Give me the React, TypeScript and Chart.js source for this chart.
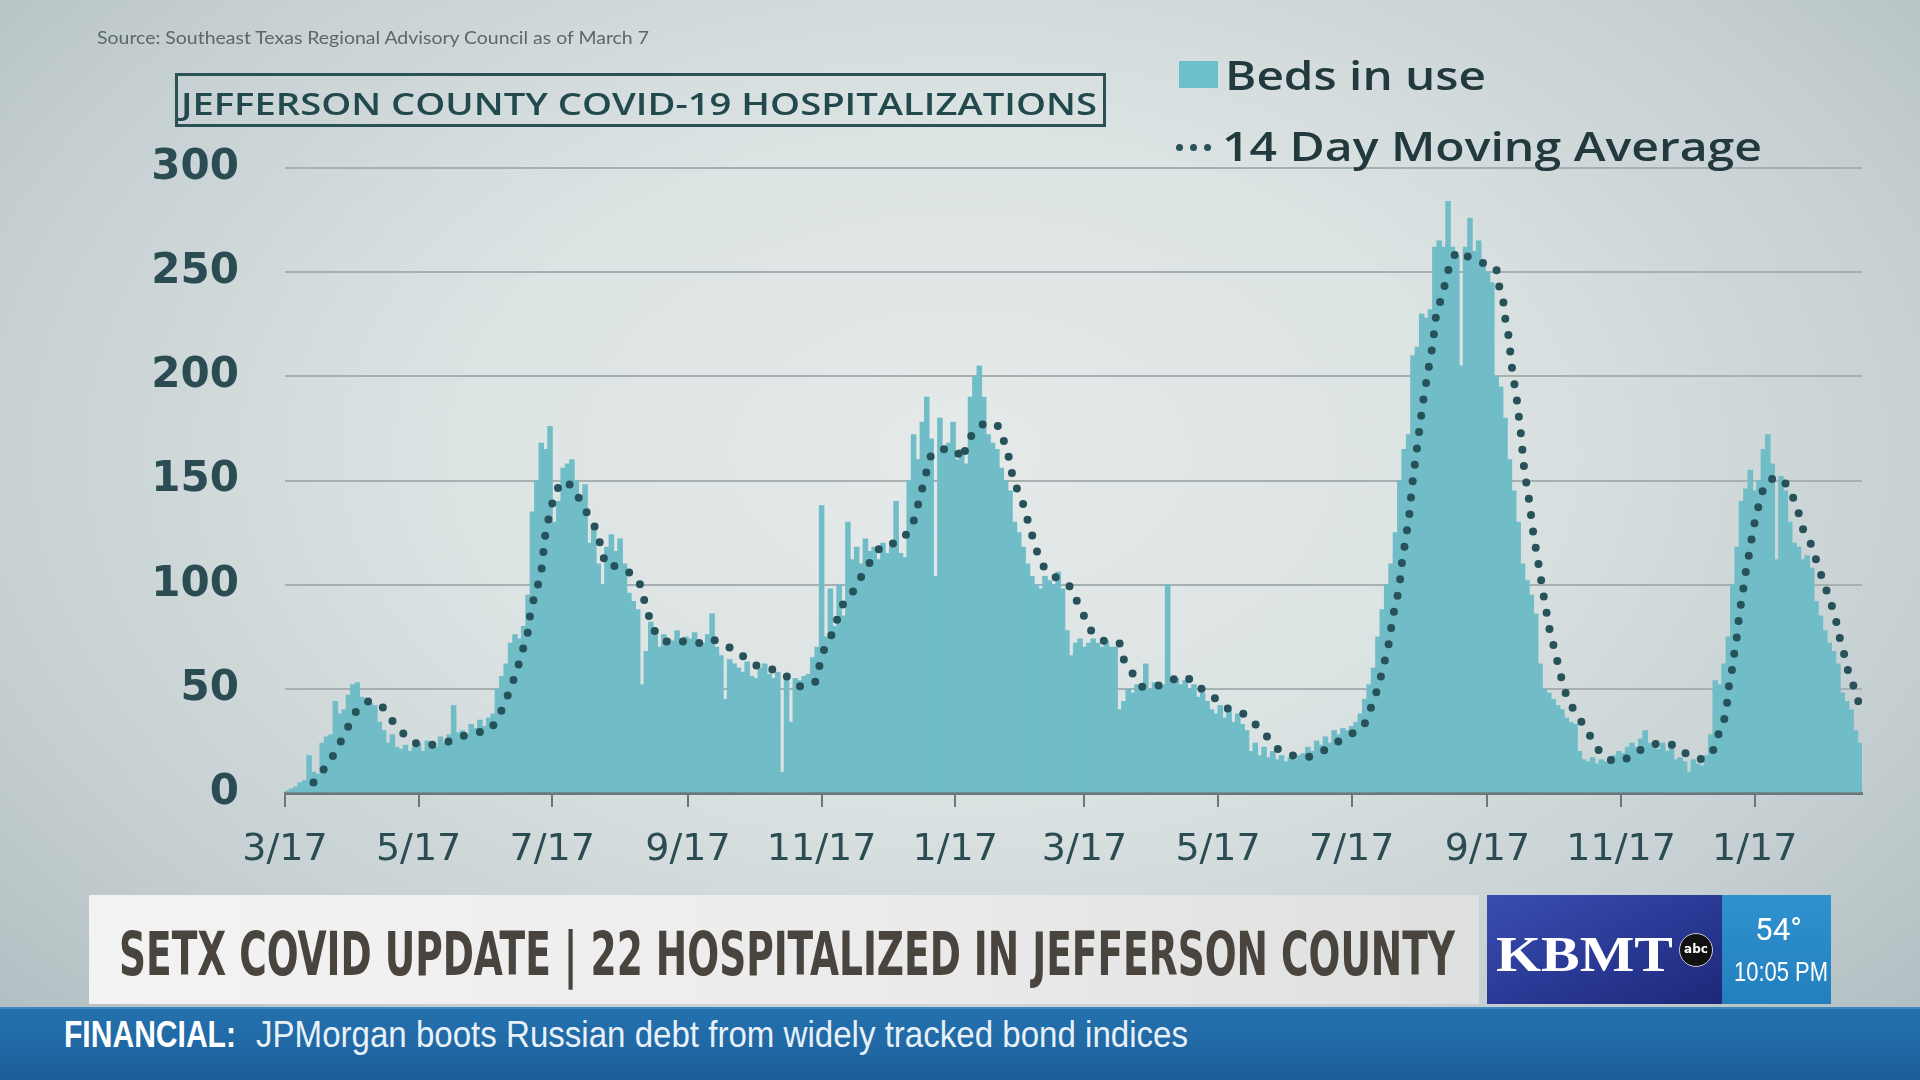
import React, { useEffect, useLayoutEffect, useRef } from "react";
import { Chart, registerables } from "chart.js";

Chart.register(...registerables);

// ---- Data (days counted from 3/17/2020) ----
const tickDays = [0, 61, 122, 184, 245, 306, 365, 426, 487, 549, 610, 671];
const tickLabels = ["3/17", "5/17", "7/17", "9/17", "11/17", "1/17", "3/17", "5/17", "7/17", "9/17", "11/17", "1/17"];
const yTickValues = [0, 50, 100, 150, 200, 250, 300];

// Beds in use, two-day bins starting 3/17/2020 (bin k covers days 2k..2k+1)
const bedsInUse = [
  1, 2, 3, 5, 6, 18, 10, 9, 24, 27,
  28, 44, 38, 40, 47, 52, 53, 46, 44, 43,
  42, 34, 30, 24, 28, 22, 21, 23, 20, 22,
  24, 20, 25, 23, 22, 27, 24, 28, 42, 29,
  30, 28, 33, 31, 35, 32, 36, 38, 50, 56,
  62, 72, 76, 74, 80, 95, 135, 150, 168, 165,
  176, 130, 140, 156, 158, 160, 150, 142, 148, 120,
  128, 110, 100, 118, 124, 116, 122, 110, 96, 92,
  88, 52, 68, 82, 76, 70, 76, 74, 73, 78,
  72, 75, 74, 77, 70, 72, 76, 86, 70, 66,
  45, 64, 62, 60, 58, 63, 56, 55, 60, 62,
  57, 55, 58, 10, 56, 34, 55, 54, 56, 57,
  65, 70, 138, 75, 98, 80, 100, 85, 130, 112,
  118, 110, 122, 116, 118, 112, 120, 115, 118, 140,
  115, 113, 150, 172, 160, 178, 190, 170, 104, 180,
  165, 168, 178, 160, 165, 158, 190, 200, 205, 190,
  172, 168, 165, 156, 150, 145, 130, 125, 118, 110,
  104, 100, 98, 104, 102, 100, 106, 98, 78, 66,
  72, 74, 70, 72, 74, 72, 70, 73, 70, 70,
  40, 44, 50, 48, 52, 50, 62, 50, 53, 50,
  52, 100, 54, 55, 52, 54, 50, 52, 46, 48,
  44, 40, 38, 42, 36, 40, 34, 38, 33, 30,
  20, 24, 18, 22, 17, 20, 16, 18, 15, 17,
  16, 18, 19, 22, 20, 25, 23, 27, 24, 30,
  28, 31, 30, 32, 34, 38, 45, 52, 60, 75,
  88, 100, 110, 125, 150, 165, 172, 210, 214, 230,
  228, 232, 262, 265, 262, 284, 262, 258, 205, 262,
  276, 260, 265, 255, 250, 245, 200, 195, 180, 160,
  145, 130, 110, 102, 95, 86, 62, 50, 48, 45,
  42, 40, 36, 34, 33, 20, 16, 15, 17, 14,
  16, 15, 17, 18, 20, 19, 22, 24, 22, 26,
  30, 24, 22, 21, 24, 20, 22, 16, 17, 15,
  10, 16, 14, 13, 18, 28, 54, 52, 62, 75,
  100, 118, 140, 146, 155, 145, 150, 165, 172, 158,
  112, 152, 145, 130, 120, 118, 112, 114, 108, 92,
  85, 78, 72, 68, 62, 48, 44, 40, 30, 24,
];

// 14 day moving average (day, value)
const maDays = [
  13, 17.5, 22, 25.6, 28.9, 32.4, 37.6, 44, 48.7, 53.6, 58.6, 66.5, 73, 80, 87, 93.6, 97.8, 100.7, 103.5, 106,
  108, 110.6, 111.5, 113, 115, 117, 118.7, 120, 121.7, 124.3, 128, 133, 135, 139.5, 142.6, 144.5, 146.5, 151.8, 157, 161.6,
  163.6, 165.6, 167.8, 172.7, 177.7, 182.9, 189, 195, 200.4, 207, 211.5, 217.6, 224.7, 229.8, 235.4, 242, 244, 245.8, 249.6, 252,
  254.9, 258.4, 261.7, 265.2, 269.3, 272.4, 279.7, 284.5, 287.6, 289.4, 291.4, 293.2, 295.2, 300.5, 305.8, 309.6, 311.2, 315, 319.8, 325.9,
  328.2, 330.5, 332, 334.5, 337.3, 339.3, 341.6, 343.9, 347.2, 352.7, 358.6, 361.6, 364.8, 368.5, 374, 381, 383, 387.2, 391.3, 396.8,
  403.2, 408.2, 415.3, 419.2, 425.3, 431, 437.7, 443, 448.4, 453.4, 460, 466.8, 473.6, 479.7, 486.4, 492.5, 495.5, 497.9, 500.1, 502,
  503.8, 505, 506.3, 508, 509.2, 510, 511.2, 512.4, 513.5, 514.2, 515, 516, 517, 518, 519, 520, 521.4, 522.6, 524, 525.6,
  527.8, 529.8, 531.6, 534.8, 538.6, 543.9, 549.8, 553, 554.4, 556.4, 557.2, 558.7, 560.2, 562.5, 564.3, 565.8, 568.1, 570, 572.6, 574.9,
  577.6, 579.6, 581.4, 583.3, 585.5, 589.5, 593.2, 597.2, 601.3, 607, 614.2, 620.6, 627.6, 634.6, 640.7, 647.4, 652.4, 654.7, 657.3, 658.5,
  659.3, 660.8, 661.8, 663, 663.8, 664.9, 666.1, 667.2, 668.7, 669.9, 671.4, 673.3, 675.5, 680.5, 685.9, 688.9, 691.5, 693.5, 697, 699.3,
  701.9, 704.5, 706.8, 708.8, 710.3, 712.6, 714.1, 717.2, 719,
];
const maValues = [
  5, 11, 18, 25, 32, 39, 44, 42, 35, 29, 24, 23, 24, 27, 29, 30, 37, 44, 52, 59,
  67, 75, 83, 91, 98, 106, 123, 130, 138, 146, 150, 145, 139, 132, 125, 117, 109, 109, 106, 102,
  94, 87, 79, 73, 72, 73, 72, 74, 71, 68, 63, 60, 59, 55.5, 51, 53, 61, 68, 76, 83,
  91, 95, 101, 108, 114, 119, 120, 125, 132, 140, 148, 155.5, 163, 165, 165, 160, 168, 174, 178, 176,
  169, 161, 153, 145, 138, 130, 122, 114, 107, 103, 99, 92, 85, 77, 73, 72, 64, 57, 51, 51,
  53, 56, 54, 49, 45, 40, 38, 33, 27, 21, 18, 17, 20, 24, 28, 32, 40, 47, 55, 63,
  71, 79, 87, 95, 103, 111, 119, 127, 135, 143, 151, 159, 167, 175, 183, 191, 199, 207, 215, 230,
  237, 245, 253, 260, 258, 256, 253, 252, 243, 235, 227, 219, 204, 188, 172, 155, 140, 124, 108, 93,
  77, 69, 61, 53, 45, 38, 32, 25, 18, 15, 17, 22, 24, 23, 18, 16, 21, 29, 36, 44,
  52, 60, 68, 76, 84, 92, 100, 108, 116, 124, 132, 140, 148, 152, 148, 141, 133, 125, 119, 111,
  103, 95, 88, 80, 72, 64, 56, 49, 41,
];

// ---- Styles ----
const BAR_COLOR = "#70bdc8";
const DOT_COLOR = "#27525a";
const AXIS_TEXT = "#2a4c52";

function FitText({ text, width, style }: { text: string; width: number; style?: React.CSSProperties }) {
  const ref = useRef<HTMLSpanElement>(null);
  useLayoutEffect(() => {
    const el = ref.current;
    if (!el) return;
    el.style.transform = "none";
    const w = el.getBoundingClientRect().width;
    if (w > 0) el.style.transform = `scaleX(${width / w})`;
  }, [text, width]);
  return (
    <span
      ref={ref}
      style={{ display: "inline-block", whiteSpace: "nowrap", transformOrigin: "left center", ...style }}
    >
      {text}
    </span>
  );
}

function Label({
  text, x, cy, size, width, style,
}: { text: string; x: number; cy: number; size: number; width: number; style?: React.CSSProperties }) {
  return (
    <div style={{ position: "absolute", left: x, top: cy - size / 2, height: size, lineHeight: `${size}px`, fontSize: size }}>
      <FitText text={text} width={width} style={style} />
    </div>
  );
}

export default function App() {
  const canvasRef = useRef<HTMLCanvasElement>(null);

  useEffect(() => {
    const canvas = canvasRef.current;
    if (!canvas) return;
    const bars = bedsInUse.map((v, i) => ({ x: 2 * i + 1, y: v }));
    const ma = maDays.map((d, i) => ({ x: d, y: maValues[i] }));
    const chart = new Chart(canvas, {
      type: "bar",
      data: {
        datasets: [
          {
            type: "line",
            label: "14 Day Moving Average",
            data: ma,
            borderColor: DOT_COLOR,
            borderWidth: 8,
            borderDash: [0, 16.5],
            borderCapStyle: "round",
            pointRadius: 0,
            fill: false,
            tension: 0,
            order: 0,
          } as any,
          {
            type: "bar",
            label: "Beds in use",
            data: bars,
            backgroundColor: BAR_COLOR,
            borderWidth: 0,
            barThickness: 4.9,
            order: 1,
          } as any,
        ],
      },
      options: {
        responsive: false,
        maintainAspectRatio: false,
        animation: false,
        layout: { padding: { top: 168, right: 58, left: 0, bottom: 0 } },
        plugins: { legend: { display: false }, tooltip: { enabled: false } },
        scales: {
          x: {
            type: "linear",
            offset: false,
            min: 0,
            max: 720,
            afterBuildTicks: (s: any) => {
              s.ticks = tickDays.map((v) => ({ value: v }));
            },
            afterFit: (s: any) => {
              s.height = 287;
            },
            ticks: {
              autoSkip: false,
              maxRotation: 0,
              minRotation: 0,
              padding: 20,
              color: AXIS_TEXT,
              font: { family: "'DejaVu Sans'", size: 38, weight: "normal" },
              callback: (_v: any, i: number) => tickLabels[i],
            },
            grid: { drawOnChartArea: false, drawTicks: true, tickLength: 14, color: "#6d7779", lineWidth: 2, offset: false },
            border: { display: true, color: "#6d7779", width: 3 },
          },
          y: {
            min: 0,
            max: 300,
            afterBuildTicks: (s: any) => {
              s.ticks = yTickValues.map((v) => ({ value: v }));
            },
            afterFit: (s: any) => {
              s.width = 285;
            },
            ticks: {
              padding: 46,
              color: AXIS_TEXT,
              font: { family: "'DejaVu Sans'", size: 42, weight: "bold" },
            },
            grid: { color: "#a6afb1", lineWidth: 2, drawTicks: false },
            border: { display: false },
          },
        },
      } as any,
    });
    return () => chart.destroy();
  }, []);

  return (
    <div
      style={{
        position: "fixed",
        left: 0,
        top: 0,
        width: 1920,
        height: 1080,
        overflow: "hidden",
        background:
          "radial-gradient(ellipse 75% 85% at 50% 42%, #e5eae9 0%, #dce3e3 35%, #c5cfd1 70%, #a9b6ba 100%)",
        fontFamily: "'Open Sans', sans-serif",
      }}
    >
      <canvas ref={canvasRef} width={1920} height={1080} style={{ position: "absolute", left: 0, top: 0, width: 1920, height: 1080 }} />

      {/* Source */}
      <Label
        text="Source: Southeast Texas Regional Advisory Council as of March 7"
        x={97}
        cy={37}
        size={17}
        width={552}
        style={{ fontFamily: "Lato, sans-serif", color: "#5b6769" }}
      />

      {/* Title box */}
      <div
        style={{
          position: "absolute",
          left: 175,
          top: 73,
          width: 931,
          height: 54,
          boxSizing: "border-box",
          border: "3px solid #2b5157",
        }}
      />
      <Label
        text="JEFFERSON COUNTY COVID-19 HOSPITALIZATIONS"
        x={181}
        cy={103}
        size={31}
        width={916}
        style={{ fontFamily: "'Open Sans', sans-serif", fontWeight: 600, color: "#22494e" }}
      />

      {/* Legend */}
      <div style={{ position: "absolute", left: 1179, top: 61, width: 39, height: 27, background: "#6cbfcc" }} />
      <Label
        text="Beds in use"
        x={1225}
        cy={75}
        size={40}
        width={261}
        style={{ fontFamily: "'Open Sans', sans-serif", fontWeight: 600, color: "#223a3d" }}
      />
      {[1179, 1193, 1207].map((cx) => (
        <div
          key={cx}
          style={{
            position: "absolute",
            left: cx - 3.5,
            top: 147 - 3.5,
            width: 7,
            height: 7,
            borderRadius: "50%",
            background: DOT_COLOR,
          }}
        />
      ))}
      <Label
        text="14 Day Moving Average"
        x={1222}
        cy={145}
        size={39}
        width={540}
        style={{ fontFamily: "'Open Sans', sans-serif", fontWeight: 600, color: "#223a3d" }}
      />

      {/* Lower third */}
      <div
        style={{
          position: "absolute",
          left: 89,
          top: 895,
          width: 1390,
          height: 109,
          background: "linear-gradient(to right, #f3f3f3 0%, #ececec 55%, #dedfdf 100%)",
        }}
      />
      <Label
        text="SETX COVID UPDATE | 22 HOSPITALIZED IN JEFFERSON COUNTY"
        x={119}
        cy={952}
        size={60}
        width={1336}
        style={{
          fontFamily: "'Liberation Sans Narrow', 'DejaVu Sans Condensed', 'Liberation Sans', sans-serif",
          fontWeight: 700,
          color: "#4a443f",
        }}
      />
      <div
        style={{
          position: "absolute",
          left: 1487,
          top: 895,
          width: 235,
          height: 109,
          background: "linear-gradient(to bottom right, #3a4db0 0%, #2a3a96 50%, #1d2878 100%)",
        }}
      />
      <Label
        text="KBMT"
        x={1496}
        cy={952}
        size={50}
        width={177}
        style={{ fontFamily: "'Liberation Serif', serif", fontWeight: 700, color: "#ffffff" }}
      />
      <div
        style={{
          position: "absolute",
          left: 1679,
          top: 933,
          width: 34,
          height: 34,
          borderRadius: "50%",
          background: "#111111",
          border: "1px solid #c8cbe0",
          boxSizing: "border-box",
          color: "#ffffff",
          fontFamily: "'DejaVu Sans', sans-serif",
          fontWeight: 700,
          fontSize: 12,
          lineHeight: "31px",
          textAlign: "center",
        }}
      >
        abc
      </div>
      <div
        style={{
          position: "absolute",
          left: 1722,
          top: 895,
          width: 109,
          height: 109,
          background: "linear-gradient(to bottom, #2f92cf 0%, #237fbd 100%)",
        }}
      />
      <Label
        text="54°"
        x={1755}
        cy={928}
        size={32}
        width={47}
        style={{ fontFamily: "Roboto, sans-serif", color: "#ffffff" }}
      />
      <Label
        text="10:05 PM"
        x={1734}
        cy={970}
        size={27}
        width={94}
        style={{ fontFamily: "'Liberation Sans Narrow', 'Liberation Sans', sans-serif", color: "#ffffff" }}
      />

      {/* Ticker */}
      <div
        style={{
          position: "absolute",
          left: 0,
          top: 1007,
          width: 1920,
          height: 73,
          background: "linear-gradient(to bottom, #2471ae 0%, #1f67a3 60%, #1c5e97 100%)",
          borderTop: "2px solid #3f86bf",
          boxSizing: "border-box",
        }}
      />
      <Label
        text="FINANCIAL:"
        x={64}
        cy={1034}
        size={36}
        width={172}
        style={{ fontFamily: "'Liberation Sans Narrow', 'Liberation Sans', sans-serif", fontWeight: 700, color: "#ffffff" }}
      />
      <Label
        text="JPMorgan boots Russian debt from widely tracked bond indices"
        x={256}
        cy={1034}
        size={36}
        width={932}
        style={{ fontFamily: "'Liberation Sans Narrow', 'Liberation Sans', sans-serif", color: "#e8f0f8" }}
      />
    </div>
  );
}
